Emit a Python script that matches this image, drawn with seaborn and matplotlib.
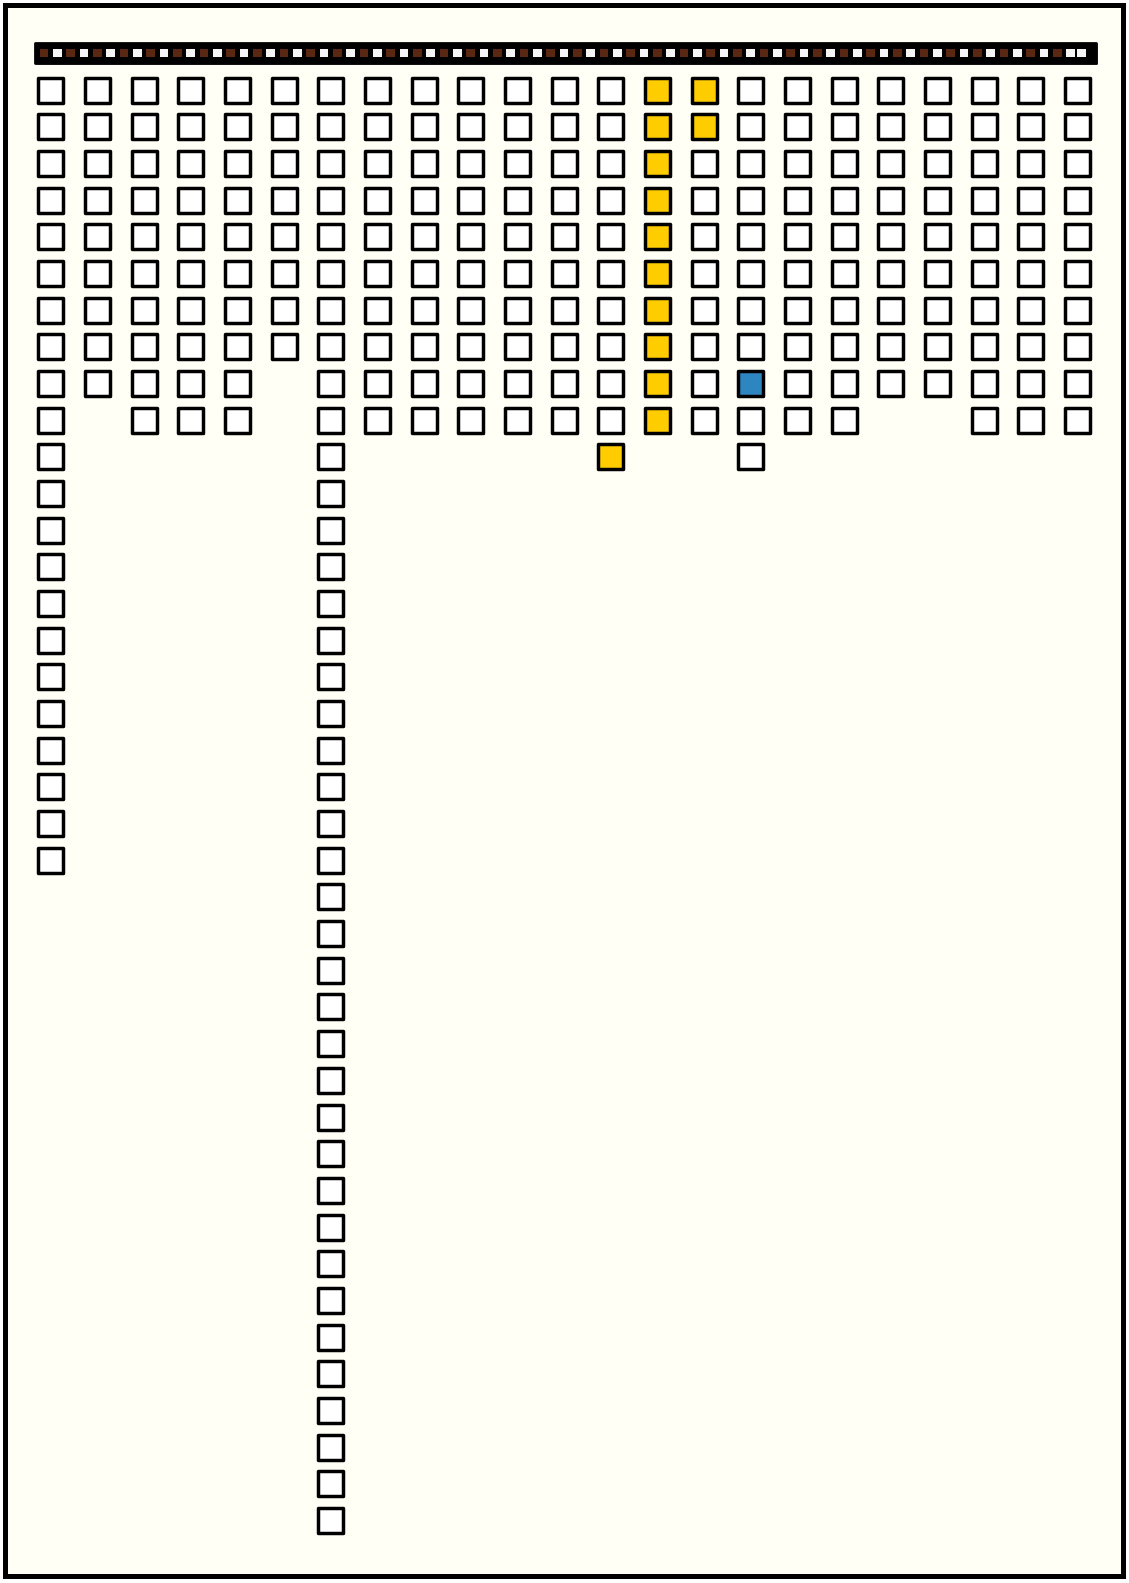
import numpy as np
import pandas as pd
import seaborn as sns
import matplotlib.pyplot as plt
import matplotlib.patheffects as pe
from matplotlib.patches import Rectangle

# squares per column, left to right
counts = [22, 9, 10, 10, 10, 8, 40, 10, 10, 10, 10, 10, 11, 10, 10, 11, 10, 10, 9, 9, 10, 10, 10]
# highlighted cells: (column, row) -> colour group
yellow_cells = [(12, 10)] + [(13, r) for r in range(10)] + [(14, 0), (14, 1)]
blue_cells = [(15, 8)]

palette = {"plain": "#FFFFFF", "yellow": "#FFCC00", "blue": "#2E86C1"}
ivory = "#FFFFF5"
brown = "#5A2812"

# build the long table of cells
rows = []
for c, n in enumerate(counts):
    for r in range(n):
        state = "plain"
        if (c, r) in yellow_cells:
            state = "yellow"
        elif (c, r) in blue_cells:
            state = "blue"
        rows.append({"col": c, "row": r, "state": state})
df = pd.DataFrame(rows)

sns.set_style("white")
fig = plt.figure(figsize=(11.29, 15.83), dpi=100)
fig.patch.set_facecolor("white")

# outer frame (behind the axes)
fig.patches.append(Rectangle((4.5 / 1129, 1 - 1575.5 / 1583), 1118 / 1129, 1571 / 1583,
                             transform=fig.transFigure, facecolor=ivory,
                             edgecolor="black", linewidth=3.6, zorder=-5))

ax = fig.add_axes([0, 0, 1, 1])
ax.set_facecolor("none")
ax.set_zorder(1)

shadow = [pe.SimplePatchShadow(offset=(1.4, -1.4), shadow_rgbFace="#888888", alpha=0.7), pe.Normal()]

sns.scatterplot(data=df, x="col", y="row", hue="state", palette=palette,
                marker="s", s=324, edgecolor="black", linewidth=2.5, alpha=1,
                legend=False, ax=ax, zorder=3)
for coll in ax.collections:
    coll.set_path_effects(shadow)

# header band with alternating small squares
band = Rectangle((-0.33, (42.5 - 90) / 36.68), 22.72, 20.5 / 36.68,
                 facecolor="black", edgecolor="black", linewidth=2,
                 joinstyle="round", zorder=2)
band.set_path_effects(shadow)
ax.add_patch(band)
bx = -0.146 + np.arange(79) * (2 / 7)
bx[-1] = bx[-2] + 0.23
bcol = [brown if i % 2 == 0 else "#F5F5F5" for i in range(79)]
bcol[-1] = "#F5F5F5"
ax.scatter(bx, np.full(len(bx), (53 - 90) / 36.68), marker="s", s=40, c=bcol,
           linewidths=0, zorder=4)

ax.set_xlim(-50.8 / 46.67, (1129 - 50.8) / 46.67)
ax.set_ylim((1583 - 90) / 36.68, -90 / 36.68)
ax.axis("off")

fig.savefig("out.png", dpi=100, facecolor=fig.get_facecolor())
